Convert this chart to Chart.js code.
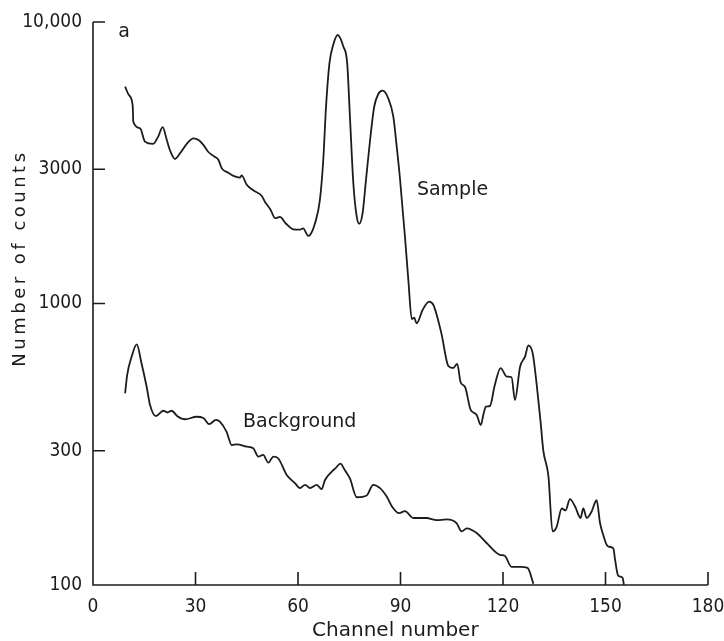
<!DOCTYPE html>
<html>
<head>
<meta charset="utf-8">
<script src="https://cdn.jsdelivr.net/npm/chart.js@4"></script>
<style>
  html, body { margin: 0; padding: 0; background: #fff; }
  #wrap { width: 724px; height: 641px; }
</style>
</head>
<body>
<div id="wrap"><canvas id="spectrum"></canvas></div>
<script>
// channel / counts
var sampleChannel = [9.4, 10.5, 11.6, 11.8, 13.8, 15.2, 17.6, 19.0, 20.4, 21.5, 22.5, 24.0, 25.5, 27.5, 29.4, 31.0, 32.3, 33.7, 35.5, 36.7, 37.7, 39.5, 41.1, 43.0, 43.5, 45.0, 47.0, 49.4, 50.3, 52.0, 53.3, 54.7, 56.5, 58.6, 60.6, 61.5, 63.0, 63.5, 65.0, 66.4, 67.4, 68.2, 69.2, 70.3, 71.6, 73.3, 74.4, 75.2, 76.2, 77.2, 77.9, 78.9, 79.9, 81.1, 82.3, 83.5, 84.8, 86.4, 87.9, 88.9, 89.8, 91.3, 92.3, 93.3, 94.0, 94.7, 96.5, 98.4, 99.6, 100.5, 102.0, 104.0, 105.4, 106.6, 107.6, 108.9, 110.5, 112.3, 113.5, 114.3, 115.0, 116.2, 117.6, 119.3, 121.1, 122.5, 123.5, 125.0, 126.5, 127.4, 128.7, 129.9, 131.0, 131.8, 133.3, 134.5, 135.7, 137.2, 138.3, 139.6, 141.1, 142.7, 143.5, 144.5, 145.9, 147.4, 148.4, 149.3, 150.2, 150.8, 152.3, 152.8, 153.7, 155.0, 155.4];
var sampleCounts = [5890, 5500, 5070, 4425, 4190, 3760, 3690, 3900, 4230, 3850, 3510, 3260, 3420, 3700, 3860, 3800, 3660, 3460, 3330, 3240, 3020, 2920, 2840, 2800, 2850, 2640, 2520, 2410, 2300, 2150, 2010, 2030, 1920, 1835, 1830, 1850, 1740, 1750, 1930, 2330, 3240, 5000, 7130, 8290, 8990, 8170, 7130, 4610, 2670, 2030, 1920, 2090, 2750, 3810, 5000, 5550, 5700, 5360, 4610, 3600, 2820, 1730, 1210, 880, 890, 850, 950, 1015, 990, 920, 780, 600, 590, 610, 525, 505, 420, 402, 370, 405, 430, 433, 513, 589, 550, 547, 454, 596, 650, 710, 665, 510, 380, 300, 243, 155, 161, 187, 184, 202, 190, 173, 187, 173, 182, 200, 166, 151, 140, 137, 135, 123, 108, 106, 100];

var backgroundChannel = [9.4, 10.0, 11.3, 12.8, 14.2, 15.7, 16.7, 18.4, 20.6, 21.8, 23.0, 24.7, 27.0, 30.3, 32.3, 34.0, 36.0, 37.2, 39.1, 40.6, 42.1, 45.0, 46.9, 48.4, 49.8, 51.3, 52.8, 54.2, 56.7, 59.1, 60.6, 62.1, 63.5, 65.5, 66.9, 67.9, 69.9, 71.0, 72.4, 73.7, 75.2, 77.2, 80.1, 82.0, 84.0, 86.1, 87.4, 89.6, 91.3, 93.7, 97.6, 100.6, 103.5, 106.4, 107.9, 109.4, 112.3, 115.2, 119.1, 120.5, 122.5, 125.0, 127.2, 128.9];
var backgroundCounts = [480, 557, 647, 716, 613, 506, 436, 398, 416, 410, 416, 398, 388, 396, 392, 373, 386, 380, 350, 314, 316, 310, 306, 286, 290, 272, 286, 282, 246, 230, 221, 227, 221, 227, 219, 236, 253, 260, 270, 256, 239, 205, 208, 227, 221, 205, 191, 180, 183, 173, 173, 170, 171, 166, 155, 159, 153, 141, 128, 127, 116, 116, 115, 101];

var xTicks = [0, 30, 60, 90, 120, 150, 180];
var yTicks = [100, 300, 1000, 3000, 10000];
var yTickLabels = ['100', '300', '1000', '3000', '10,000'];

var TICK_FONT = "'DejaVu Sans Condensed', 'DejaVu Sans', sans-serif";
var TEXT_FONT = "'DejaVu Sans', sans-serif";
var INK = '#1c1c1c';

function toPoints(xs, ys) {
    return xs.map(function (x, i) { return { x: x, y: ys[i] }; });
}

// labels written inside the plot, placed in data coordinates
var notes = [
    { text: 'Sample', x: 94.8, y: 2530 },
    { text: 'Background', x: 43.9, y: 380 },
    { text: 'a', x: 7.4, y: 9200 }
];

var figurePlugin = {
    id: 'figure',
    afterDraw: function (chart) {
        var ctx = chart.ctx;
        var xs = chart.scales.x, ys = chart.scales.y;
        var area = chart.chartArea;
        ctx.save();
        ctx.strokeStyle = INK;
        ctx.lineWidth = 1.6;
        ctx.beginPath();
        // axis lines
        ctx.moveTo(area.left, area.top);
        ctx.lineTo(area.left, area.bottom);
        ctx.lineTo(area.right, area.bottom);
        // inward ticks
        yTicks.forEach(function (v) {
            var py = ys.getPixelForValue(v);
            ctx.moveTo(area.left, py);
            ctx.lineTo(area.left + 12, py);
        });
        xTicks.forEach(function (v) {
            if (v === 0) return;
            var px = xs.getPixelForValue(v);
            ctx.moveTo(px, area.bottom);
            ctx.lineTo(px, area.bottom - 13);
        });
        ctx.stroke();

        ctx.fillStyle = INK;
        ctx.font = '19px ' + TEXT_FONT;
        ctx.textAlign = 'left';
        ctx.textBaseline = 'middle';
        notes.forEach(function (n) {
            ctx.fillText(n.text, xs.getPixelForValue(n.x), ys.getPixelForValue(n.y));
        });

        // axis titles
        ctx.textAlign = 'center';
        ctx.textBaseline = 'alphabetic';
        ctx.font = '20px ' + TEXT_FONT;
        ctx.fillText('Channel number', xs.getPixelForValue(88.5), 636);

        ctx.save();
        ctx.translate(25, ys.getPixelForValue(1450));
        ctx.rotate(-Math.PI / 2);
        ctx.font = '18px ' + TEXT_FONT;
        ctx.letterSpacing = '3.5px';
        ctx.fillText('Number of counts', 0, 0);
        ctx.restore();

        ctx.restore();
    }
};

new Chart(document.getElementById('spectrum'), {
    type: 'line',
    data: {
        datasets: [{
            label: 'Sample',
            data: toPoints(sampleChannel, sampleCounts),
            borderColor: INK,
            borderWidth: 1.8,
            pointRadius: 0,
            fill: false,
            cubicInterpolationMode: 'monotone'
        }, {
            label: 'Background',
            data: toPoints(backgroundChannel, backgroundCounts),
            borderColor: INK,
            borderWidth: 1.8,
            pointRadius: 0,
            fill: false,
            cubicInterpolationMode: 'monotone'
        }]
    },
    options: {
        responsive: true,
        maintainAspectRatio: false,
        animation: false,
        layout: { padding: { top: 22, right: 16, left: 0, bottom: 0 } },
        plugins: {
            legend: { display: false },
            tooltip: { enabled: false }
        },
        scales: {
            x: {
                type: 'linear',
                min: 0,
                max: 180,
                border: { display: false },
                grid: { display: false, drawTicks: false },
                afterBuildTicks: function (scale) {
                    scale.ticks = xTicks.map(function (v) { return { value: v }; });
                },
                afterFit: function (scale) {
                    scale.height = 56;
                    scale.paddingLeft = 0;
                    scale.paddingRight = 0;
                },
                ticks: {
                    color: INK,
                    padding: 11,
                    maxRotation: 0,
                    font: { family: TICK_FONT, size: 19 }
                },
                title: { display: false }
            },
            y: {
                type: 'logarithmic',
                min: 100,
                max: 10000,
                border: { display: false },
                grid: { display: false, drawTicks: false },
                afterBuildTicks: function (scale) {
                    scale.ticks = yTicks.map(function (v) { return { value: v }; });
                },
                afterFit: function (scale) {
                    scale.width = 93;
                    scale.paddingTop = 0;
                    scale.paddingBottom = 0;
                },
                ticks: {
                    color: INK,
                    padding: 11,
                    font: { family: TICK_FONT, size: 19 },
                    callback: function (value) {
                        var i = yTicks.indexOf(value);
                        return i >= 0 ? yTickLabels[i] : '';
                    }
                },
                title: { display: false }
            }
        }
    },
    plugins: [figurePlugin]
});
</script>
</body>
</html>
